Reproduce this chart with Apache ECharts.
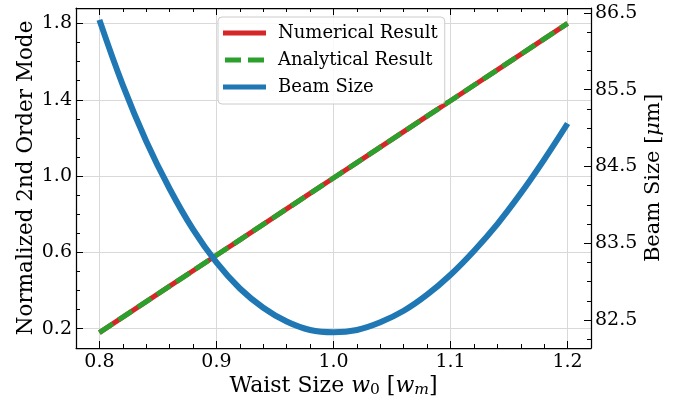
<!DOCTYPE html>
<html>
<head>
<meta charset="utf-8">
<script src="https://cdn.jsdelivr.net/npm/echarts@6/dist/echarts.min.js"></script>
<style>
  html, body { margin: 0; padding: 0; background: #fff; }
  #chart { width: 689px; height: 405px; }
</style>
</head>
<body>
<div id="chart"></div>
<script>
// waist size w0 in units of w_m
const waist = [0.80, 0.82, 0.84, 0.86, 0.88, 0.90, 0.92, 0.94, 0.96, 0.98, 1.00,
               1.02, 1.04, 1.06, 1.08, 1.10, 1.12, 1.14, 1.16, 1.18, 1.20]
const numerical = [0.180, 0.261, 0.342, 0.423, 0.504, 0.585, 0.666, 0.747, 0.828, 0.909, 0.990,
                   1.071, 1.152, 1.233, 1.314, 1.395, 1.476, 1.557, 1.638, 1.719, 1.800]
const analytical = [0.180, 0.261, 0.342, 0.423, 0.504, 0.585, 0.666, 0.747, 0.828, 0.909, 0.990,
                    1.071, 1.152, 1.233, 1.314, 1.395, 1.476, 1.557, 1.638, 1.719, 1.800]
const beamSize = [86.41, 85.56, 84.83, 84.21, 83.68, 83.25, 82.91, 82.66, 82.48, 82.37, 82.34,
                  82.37, 82.47, 82.62, 82.83, 83.09, 83.40, 83.75, 84.15, 84.59, 85.06]

const xTicks = [0.8, 0.9, 1.0, 1.1, 1.2]
const xMinor = [0.82, 0.84, 0.86, 0.88, 0.92, 0.94, 0.96, 0.98, 1.02, 1.04, 1.06, 1.08,
                1.12, 1.14, 1.16, 1.18]
const leftTicks = [0.2, 0.6, 1.0, 1.4, 1.8]
const leftMinor = [0.3, 0.4, 0.5, 0.7, 0.8, 0.9, 1.1, 1.2, 1.3, 1.5, 1.6, 1.7]
const rightTicks = [82.5, 83.5, 84.5, 85.5, 86.5]
const rightMinor = [82.25, 82.75, 83.0, 83.25, 83.75, 84.0, 84.25, 84.75, 85.0, 85.25,
                    85.75, 86.0, 86.25]

const FONT = 'DejaVu Serif'
const RED = '#d62728'
const GREEN = '#2ca02c'
const BLUE = '#1f77b4'

const pairs = (ys) => waist.map((x, i) => [x, ys[i]])

const X_MIN = 0.78, X_MAX = 1.22
const L_MIN = 0.099, L_MAX = 1.881
const R_MIN = 82.135, R_MAX = 86.565

const labelStyle = { color: '#000', fontFamily: FONT, fontSize: 19 }

function majorAxis(extra) {
  return Object.assign({
    type: 'value',
    axisLine: { show: true, onZero: false, lineStyle: { color: '#000', width: 1.25 } },
    axisTick: { show: true, inside: true, length: 7, lineStyle: { color: '#000', width: 1 } },
    splitLine: { show: false },
    axisLabel: Object.assign({ show: true }, labelStyle)
  }, extra)
}

function minorAxis(extra) {
  return Object.assign({
    type: 'value',
    axisLine: { show: false, onZero: false },
    axisTick: { show: true, inside: true, length: 4, lineStyle: { color: '#000', width: 1 } },
    axisLabel: { show: false },
    splitLine: { show: false }
  }, extra)
}

const chart = echarts.init(document.getElementById('chart'), null, { renderer: 'canvas' })

const option = {
  animation: false,
  backgroundColor: '#fff',
  grid: { left: 76, right: 98, top: 8, bottom: 57, containLabel: false },
  legend: {
    left: 218,
    top: 17,
    orient: 'vertical',
    itemWidth: 43,
    itemHeight: 5,
    itemGap: 7,
    padding: [6, 7, 7, 5],
    backgroundColor: 'rgba(255,255,255,0.85)',
    borderColor: '#cccccc',
    borderWidth: 1,
    borderRadius: 4,
    textStyle: { color: '#000', fontFamily: FONT, fontSize: 18, lineHeight: 20, padding: [0, 0, 0, 7] },
    data: [
      { name: 'Numerical Result', icon: 'rect' },
      { name: 'Analytical Result', icon: 'path://M0,0H16V5H0Z M23,0H39V5H23Z' },
      { name: 'Beam Size', icon: 'rect' }
    ]
  },
  xAxis: [
    majorAxis({
      position: 'bottom', min: X_MIN, max: X_MAX,
      axisTick: { show: true, inside: true, length: 7, customValues: xTicks, lineStyle: { color: '#000' } },
      axisLabel: Object.assign({ customValues: xTicks, margin: 5, formatter: v => v.toFixed(1) }, labelStyle),
      splitLine: { show: true, lineStyle: { color: '#d9d9d9', width: 1 } },
      name: '{n|Waist Size }{i|w}{s|0}{n| [}{i|w}{si|m}{n|]}',
      nameLocation: 'middle',
      nameMoveOverlap: false,
      nameGap: 26,
      nameTextStyle: {
        rich: {
          n: { fontFamily: FONT, fontSize: 22, color: '#000' },
          i: { fontFamily: FONT, fontStyle: 'italic', fontSize: 22, color: '#000' },
          s: { fontFamily: FONT, fontSize: 15.5, color: '#000', padding: [8, 0, 0, 0] },
          si: { fontFamily: FONT, fontStyle: 'italic', fontSize: 15.5, color: '#000', padding: [8, 0, 0, 0] }
        }
      }
    }),
    minorAxis({ position: 'bottom', min: X_MIN, max: X_MAX, axisTick: { show: true, inside: true, length: 4, customValues: xMinor, lineStyle: { color: '#000' } } }),
    majorAxis({
      position: 'top', min: X_MIN, max: X_MAX,
      axisTick: { show: true, inside: true, length: 7, customValues: xTicks, lineStyle: { color: '#000' } },
      axisLabel: { show: false }
    }),
    minorAxis({ position: 'top', min: X_MIN, max: X_MAX, axisTick: { show: true, inside: true, length: 4, customValues: xMinor, lineStyle: { color: '#000' } } })
  ],
  yAxis: [
    majorAxis({
      position: 'left', min: L_MIN, max: L_MAX,
      axisTick: { show: true, inside: true, length: 7, customValues: leftTicks, lineStyle: { color: '#000' } },
      axisLabel: Object.assign({ customValues: leftTicks, margin: 4, formatter: v => v.toFixed(1) }, labelStyle),
      splitLine: { show: true, lineStyle: { color: '#d9d9d9', width: 1 } },
      name: 'Normalized 2nd Order Mode',
      nameLocation: 'middle',
      nameMoveOverlap: false,
      nameGap: 39,
      nameTextStyle: { fontFamily: FONT, fontSize: 21.5, color: '#000' }
    }),
    minorAxis({ position: 'left', min: L_MIN, max: L_MAX, axisTick: { show: true, inside: true, length: 4, customValues: leftMinor, lineStyle: { color: '#000' } } }),
    majorAxis({
      position: 'right', min: R_MIN, max: R_MAX,
      axisTick: { show: true, inside: true, length: 7, customValues: rightTicks, lineStyle: { color: '#000' } },
      axisLabel: Object.assign({ customValues: rightTicks, margin: 4, formatter: v => v.toFixed(1) }, labelStyle),
      name: 'Beam Size [{i|μ}m]',
      nameLocation: 'middle',
      nameMoveOverlap: false,
      nameGap: 52,
      nameRotate: 90,
      nameTextStyle: {
        fontFamily: FONT, fontSize: 21, color: '#000',
        rich: { i: { fontFamily: FONT, fontStyle: 'italic', fontSize: 21, color: '#000' } }
      }
    }),
    minorAxis({ position: 'right', min: R_MIN, max: R_MAX, axisTick: { show: true, inside: true, length: 4, customValues: rightMinor, lineStyle: { color: '#000' } } })
  ],
  series: [
    {
      name: 'Numerical Result',
      type: 'line',
      xAxisIndex: 0,
      yAxisIndex: 0,
      symbol: 'none',
      lineStyle: { color: RED, width: 5, cap: 'butt' },
      itemStyle: { color: RED },
      data: pairs(numerical),
      z: 2
    },
    {
      name: 'Analytical Result',
      type: 'line',
      xAxisIndex: 0,
      yAxisIndex: 0,
      symbol: 'none',
      lineStyle: { color: GREEN, width: 5, type: [16, 7], cap: 'butt' },
      itemStyle: { color: GREEN },
      data: pairs(analytical),
      z: 3
    },
    {
      name: 'Beam Size',
      type: 'line',
      xAxisIndex: 0,
      yAxisIndex: 2,
      symbol: 'none',
      smooth: 0.4,
      lineStyle: { color: BLUE, width: 6 },
      itemStyle: { color: BLUE },
      data: pairs(beamSize),
      z: 4
    }
  ]
}

chart.setOption(option)
</script>
</body>
</html>
